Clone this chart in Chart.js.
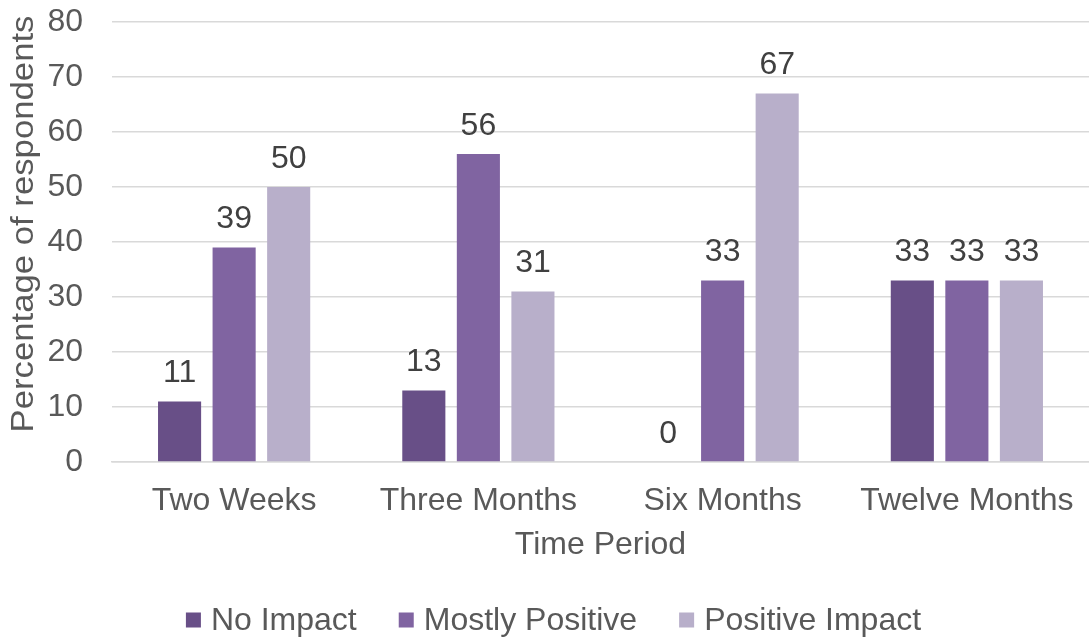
<!DOCTYPE html>
<html>
<head>
<meta charset="utf-8">
<script src="https://cdn.jsdelivr.net/npm/chart.js@4"></script>
<style>
  html, body { margin: 0; padding: 0; background: #ffffff; }
  #wrap { width: 1089px; height: 641px; }
</style>
</head>
<body>
<div id="wrap"><canvas id="chart" width="1089" height="641"></canvas></div>
<script>
const categories = ['Two Weeks', 'Three Months', 'Six Months', 'Twelve Months'];
const noImpact = [11, 13, 0, 33];
const mostlyPositive = [39, 56, 33, 33];
const positiveImpact = [50, 31, 67, 33];
const seriesNames = ['No Impact', 'Mostly Positive', 'Positive Impact'];
const seriesColors = ['#684F87', '#8064A1', '#B8AFCA'];
const yTicks = [0, 10, 20, 30, 40, 50, 60, 70, 80];
const yTitle = 'Percentage of respondents';

const FONT = '"Liberation Sans", Arial, sans-serif';
const FONT_SIZE = 32;
const TEXT = '#595959';

// Value labels drawn above each bar
const valueLabels = {
  id: 'valueLabels',
  afterDatasetsDraw(chart) {
    const ctx = chart.ctx;
    ctx.save();
    ctx.font = FONT_SIZE + 'px ' + FONT;
    ctx.fillStyle = '#404040';
    ctx.textAlign = 'center';
    ctx.textBaseline = 'middle';
    chart.data.datasets.forEach((ds, i) => {
      const meta = chart.getDatasetMeta(i);
      meta.data.forEach((bar, j) => {
        ctx.fillText(String(ds.data[j]), bar.x, bar.y - 28);
      });
    });
    ctx.restore();
  }
};

// Rotated y-axis title, slightly widened along its baseline
const yAxisTitle = {
  id: 'yAxisTitle',
  afterDraw(chart) {
    const ctx = chart.ctx;
    const area = chart.chartArea;
    ctx.save();
    ctx.font = FONT_SIZE + 'px ' + FONT;
    ctx.fillStyle = TEXT;
    ctx.textAlign = 'center';
    ctx.textBaseline = 'alphabetic';
    ctx.translate(33, (area.top + area.bottom) / 2 - 18);
    ctx.rotate(-Math.PI / 2);
    ctx.scale(1.085, 1);
    ctx.fillText(yTitle, 0, 0);
    ctx.restore();
  }
};

// Compact legend along the bottom: small square, then the series name
const bottomLegend = {
  id: 'bottomLegend',
  afterDraw(chart) {
    const ctx = chart.ctx;
    const box = 15, gapText = 10, gapItem = 42;
    const cy = 620;
    ctx.save();
    ctx.font = FONT_SIZE + 'px ' + FONT;
    ctx.textBaseline = 'middle';
    ctx.textAlign = 'left';
    const items = chart.data.datasets.map(ds => ({
      label: ds.label, color: ds.backgroundColor, w: ctx.measureText(ds.label).width
    }));
    const total = items.reduce((s, it) => s + box + gapText + it.w, 0) + gapItem * (items.length - 1);
    let x = (chart.width - total) / 2 + 9;
    items.forEach(it => {
      ctx.fillStyle = it.color;
      ctx.fillRect(x, cy - box / 2, box, box);
      x += box + gapText;
      ctx.fillStyle = TEXT;
      ctx.fillText(it.label, x, cy + 1);
      x += it.w + gapItem;
    });
    ctx.restore();
  }
};

const datasets = [noImpact, mostlyPositive, positiveImpact].map((vals, i) => ({
  label: seriesNames[i],
  data: vals,
  backgroundColor: seriesColors[i],
  borderWidth: 0,
  categoryPercentage: 0.67,
  barPercentage: 0.79
}));

new Chart(document.getElementById('chart'), {
  type: 'bar',
  data: { labels: categories, datasets },
  options: {
    responsive: false,
    animation: false,
    devicePixelRatio: 1,
    layout: { padding: { top: 0, right: 0, left: 3, bottom: 77 } },
    plugins: {
      legend: { display: false },
      tooltip: { enabled: false }
    },
    scales: {
      x: {
        afterFit(scale) {
          scale.height = 102;
          scale.paddingLeft = 0;
          scale.paddingRight = 0;
        },
        grid: { display: false },
        border: { display: true, color: '#D9D9D9', width: 1.5 },
        ticks: { font: { family: FONT, size: FONT_SIZE }, color: TEXT, padding: 12 },
        title: {
          display: true, text: 'Time Period',
          font: { family: FONT, size: FONT_SIZE }, color: TEXT, padding: { top: 7, bottom: 0 }
        }
      },
      y: {
        min: 0, max: 80,
        afterBuildTicks(axis) { axis.ticks = yTicks.map(v => ({ value: v })); },
        afterFit(scale) {
          scale.width = 109;
          scale.paddingTop = 22;
          scale.paddingBottom = 0;
        },
        grid: { color: '#D9D9D9', lineWidth: 1.5, drawTicks: false },
        border: { display: false },
        ticks: { font: { family: FONT, size: FONT_SIZE }, color: TEXT, padding: 29 },
        title: { display: false }
      }
    }
  },
  plugins: [valueLabels, yAxisTitle, bottomLegend]
});
</script>
</body>
</html>
